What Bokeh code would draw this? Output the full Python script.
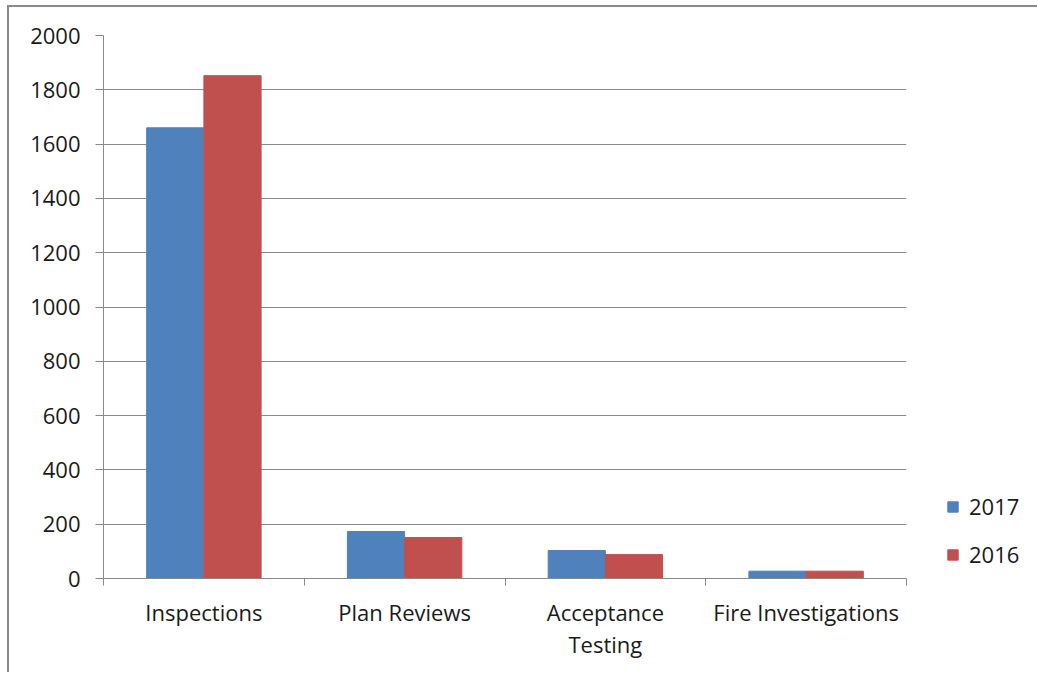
from bokeh.plotting import figure
from bokeh.models import Range1d, FixedTicker, Legend, LegendItem, ColumnDataSource
from bokeh.embed import file_html
from bokeh.resources import INLINE
import numpy as np

categories = ["Inspections", "Plan Reviews", "Acceptance Testing", "Fire Investigations"]
tick_labels = ["Inspections", "Plan Reviews", "Acceptance\nTesting", "Fire Investigations"]
series_names = ["2017", "2016"]
values_2017 = [1660, 173, 103, 27]
values_2016 = [1852, 151, 88, 27]
y_ticks = [0, 200, 400, 600, 800, 1000, 1200, 1400, 1600, 1800, 2000]

BLUE = "#4F81BD"
RED = "#C0504D"
GRID = "#888888"
TXT = "#1a1a1a"
FONT = "Open Sans"
FS = "22px"

bar_w = 0.285
idx = np.arange(len(categories)) + 0.5
src = ColumnDataSource(dict(
    x17=idx - bar_w / 2, x16=idx + bar_w / 2,
    v17=values_2017, v16=values_2016, cat=categories,
))

p = figure(
    output_backend="svg", toolbar_location=None,
    frame_width=803, frame_height=543,
    min_border_left=94, min_border_top=28, min_border_right=125, min_border_bottom=94,
    x_range=Range1d(0, len(categories)), y_range=Range1d(0, 2000),
    background_fill_color="white", border_fill_color="white",
)
p.styles = {"border-top": "2px solid #8a8a8a", "border-left": "2px solid #8a8a8a",
            "margin-top": "5px", "margin-left": "7px"}
p.outline_line_color = None

r17 = p.vbar(x="x17", top="v17", width=bar_w, source=src, fill_color=BLUE, line_color=BLUE)
r16 = p.vbar(x="x16", top="v16", width=bar_w, source=src, fill_color=RED, line_color=RED)

# y axis
p.yaxis.ticker = FixedTicker(ticks=y_ticks)
p.yaxis.axis_line_color = GRID
p.yaxis.major_tick_line_color = GRID
p.yaxis.major_tick_in = 0
p.yaxis.major_tick_out = 8
p.yaxis.minor_tick_line_color = None
p.yaxis.major_label_standoff = 15
p.yaxis.major_label_text_font = FONT
p.yaxis.major_label_text_font_size = FS
p.yaxis.major_label_text_color = TXT

# x axis
p.xaxis.ticker = FixedTicker(ticks=list(idx), minor_ticks=list(range(len(categories) + 1)))
p.xaxis.major_label_overrides = {float(v): lab for v, lab in zip(idx, tick_labels)}
p.xaxis.axis_line_color = GRID
p.xaxis.major_tick_line_color = None
p.xaxis.major_tick_in = 0
p.xaxis.major_tick_out = 0
p.xaxis.minor_tick_line_color = GRID
p.xaxis.minor_tick_in = 0
p.xaxis.minor_tick_out = 7
p.xaxis.major_label_standoff = 11
p.xaxis.major_label_text_font = FONT
p.xaxis.major_label_text_font_size = FS
p.xaxis.major_label_text_color = TXT
p.xaxis.major_label_text_line_height = 1.08

p.xgrid.visible = False
p.ygrid.grid_line_color = GRID
p.ygrid.grid_line_width = 1

legend = Legend(
    items=[LegendItem(label=series_names[0], renderers=[r17]),
           LegendItem(label=series_names[1], renderers=[r16])],
    location=(40, 9), padding=0, margin=0, spacing=18,
    glyph_width=13, glyph_height=13, label_height=13, label_standoff=10,
    label_text_font=FONT, label_text_font_size=FS, label_text_color=TXT,
    border_line_color=None, background_fill_alpha=0,
)
p.add_layout(legend, "right")

open("out.html", "w").write(file_html(p, INLINE))
